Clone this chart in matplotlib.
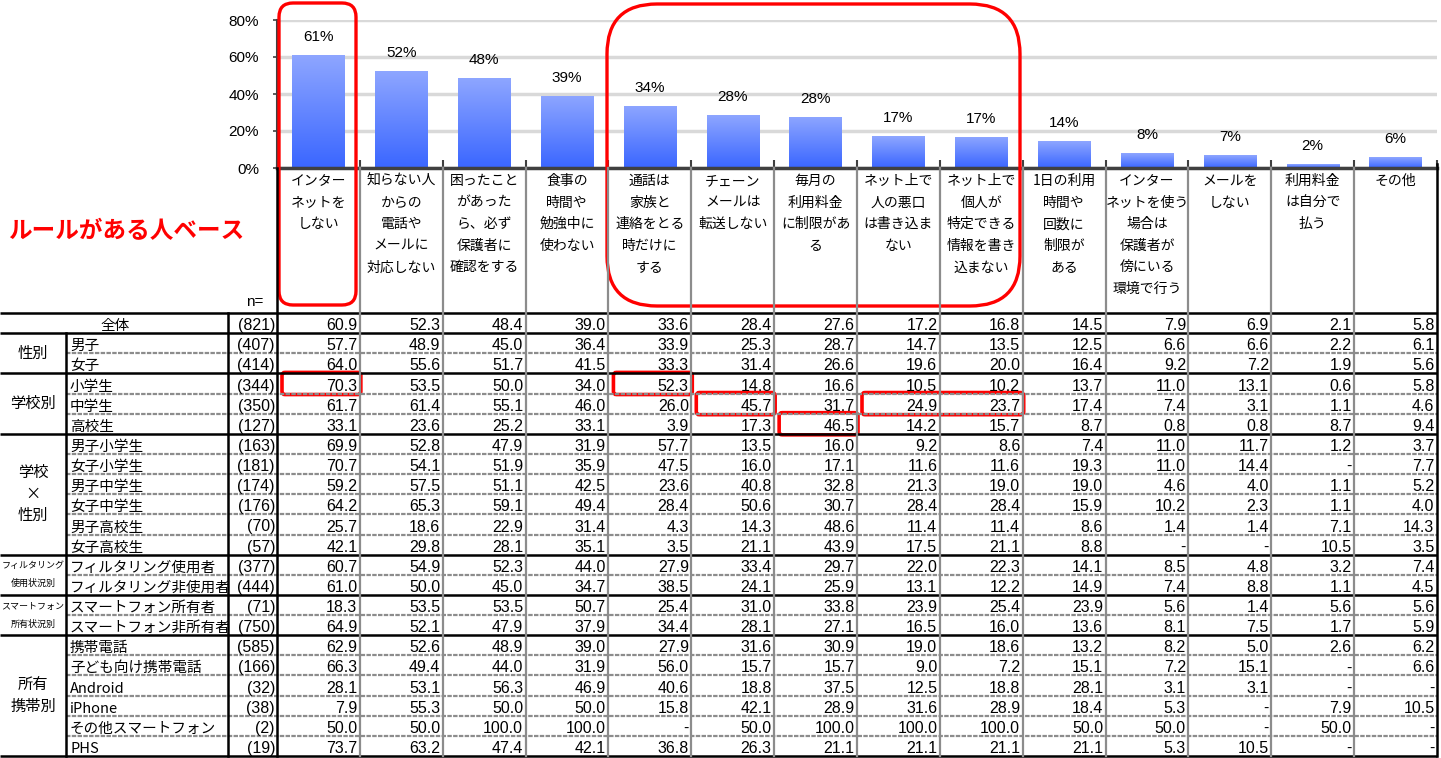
import numpy as np
import matplotlib
matplotlib.use("Agg")
import matplotlib.pyplot as plt
from matplotlib.patches import FancyBboxPatch
from matplotlib.colors import LinearSegmentedColormap

# ---- data ----
categories = [
    "インター\nネットを\nしない",
    "知らない人\nからの\n電話や\nメールに\n対応しない",
    "困ったこと\nがあった\nら、必ず\n保護者に\n確認をする",
    "食事の\n時間や\n勉強中に\n使わない",
    "通話は\n家族と\n連絡をとる\n時だけに\nする",
    "チェーン\nメールは\n転送しない",
    "毎月の\n利用料金\nに制限があ\nる",
    "ネット上で\n人の悪口\nは書き込ま\nない",
    "ネット上で\n個人が\n特定できる\n情報を書き\n込まない",
    "1日の利用\n時間や\n回数に\n制限が\nある",
    "インター\nネットを使う\n場合は\n保護者が\n傍にいる\n環境で行う",
    "メールを\nしない",
    "利用料金\nは自分で\n払う",
    "その他",
]

row_labels = ["全体", "男子", "女子", "小学生", "中学生", "高校生",
              "男子小学生", "女子小学生", "男子中学生", "女子中学生", "男子高校生", "女子高校生",
              "フィルタリング使用者", "フィルタリング非使用者",
              "スマートフォン所有者", "スマートフォン非所有者",
              "携帯電話", "子ども向け携帯電話", "Android", "iPhone", "その他スマートフォン", "PHS"]
row_n = [821, 407, 414, 344, 350, 127, 163, 181, 174, 176, 70, 57,
         377, 444, 71, 750, 585, 166, 32, 38, 2, 19]

group_names = ["全体", "性別", "学校別", "学校\n×\n性別",
               "フィルタリング\n使用状況別", "スマートフォン\n所有状況別", "所有\n携帯別"]
group_sizes = [1, 2, 3, 6, 2, 2, 6]

N = None
table = [
    [60.9, 52.3, 48.4, 39.0, 33.6, 28.4, 27.6, 17.2, 16.8, 14.5, 7.9, 6.9, 2.1, 5.8],
    [57.7, 48.9, 45.0, 36.4, 33.9, 25.3, 28.7, 14.7, 13.5, 12.5, 6.6, 6.6, 2.2, 6.1],
    [64.0, 55.6, 51.7, 41.5, 33.3, 31.4, 26.6, 19.6, 20.0, 16.4, 9.2, 7.2, 1.9, 5.6],
    [70.3, 53.5, 50.0, 34.0, 52.3, 14.8, 16.6, 10.5, 10.2, 13.7, 11.0, 13.1, 0.6, 5.8],
    [61.7, 61.4, 55.1, 46.0, 26.0, 45.7, 31.7, 24.9, 23.7, 17.4, 7.4, 3.1, 1.1, 4.6],
    [33.1, 23.6, 25.2, 33.1, 3.9, 17.3, 46.5, 14.2, 15.7, 8.7, 0.8, 0.8, 8.7, 9.4],
    [69.9, 52.8, 47.9, 31.9, 57.7, 13.5, 16.0, 9.2, 8.6, 7.4, 11.0, 11.7, 1.2, 3.7],
    [70.7, 54.1, 51.9, 35.9, 47.5, 16.0, 17.1, 11.6, 11.6, 19.3, 11.0, 14.4, N, 7.7],
    [59.2, 57.5, 51.1, 42.5, 23.6, 40.8, 32.8, 21.3, 19.0, 19.0, 4.6, 4.0, 1.1, 5.2],
    [64.2, 65.3, 59.1, 49.4, 28.4, 50.6, 30.7, 28.4, 28.4, 15.9, 10.2, 2.3, 1.1, 4.0],
    [25.7, 18.6, 22.9, 31.4, 4.3, 14.3, 48.6, 11.4, 11.4, 8.6, 1.4, 1.4, 7.1, 14.3],
    [42.1, 29.8, 28.1, 35.1, 3.5, 21.1, 43.9, 17.5, 21.1, 8.8, N, N, 10.5, 3.5],
    [60.7, 54.9, 52.3, 44.0, 27.9, 33.4, 29.7, 22.0, 22.3, 14.1, 8.5, 4.8, 3.2, 7.4],
    [61.0, 50.0, 45.0, 34.7, 38.5, 24.1, 25.9, 13.1, 12.2, 14.9, 7.4, 8.8, 1.1, 4.5],
    [18.3, 53.5, 53.5, 50.7, 25.4, 31.0, 33.8, 23.9, 25.4, 23.9, 5.6, 1.4, 5.6, 5.6],
    [64.9, 52.1, 47.9, 37.9, 34.4, 28.1, 27.1, 16.5, 16.0, 13.6, 8.1, 7.5, 1.7, 5.9],
    [62.9, 52.6, 48.9, 39.0, 27.9, 31.6, 30.9, 19.0, 18.6, 13.2, 8.2, 5.0, 2.6, 6.2],
    [66.3, 49.4, 44.0, 31.9, 56.0, 15.7, 15.7, 9.0, 7.2, 15.1, 7.2, 15.1, N, 6.6],
    [28.1, 53.1, 56.3, 46.9, 40.6, 18.8, 37.5, 12.5, 18.8, 28.1, 3.1, 3.1, N, N],
    [7.9, 55.3, 50.0, 50.0, 15.8, 42.1, 28.9, 31.6, 28.9, 18.4, 5.3, N, 7.9, 10.5],
    [50.0, 50.0, 100.0, 100.0, N, 50.0, 100.0, 100.0, 100.0, 50.0, 50.0, N, 50.0, N],
    [73.7, 63.2, 47.4, 42.1, 36.8, 26.3, 21.1, 21.1, 21.1, 21.1, 5.3, 10.5, N, N],
]
overall = table[0]

# highlighted cells: (row, first col, last col)
highlights = [(3, 0, 0), (3, 4, 4), (4, 5, 5), (4, 7, 8), (5, 6, 6)]

# ---- layout (pixels) ----
W, H = 1441, 758
JP = "Noto Sans CJK JP"
NUM = "Liberation Sans"
x_left, x_right = 277, 1437
col_w = (x_right - x_left) / len(categories)
y_top, y_base = 20, 168
t_top, t_bot = 313, 756
row_h = (t_bot - t_top) / len(row_labels)
c_grp, c_n = 66, 228

fig = plt.figure(figsize=(W / 100, H / 100), dpi=100)

# ---- bar chart ----
ax = fig.add_axes([x_left / W, 1 - y_base / H, (x_right - x_left) / W, (y_base - y_top) / H])
xs = np.arange(len(categories))
bars = ax.bar(xs, overall, width=0.63, color="none", zorder=2)
cmap = LinearSegmentedColormap.from_list("blu", ["#3a66ff", "#8ea6ff"])
grad = np.linspace(0, 1, 256).reshape(-1, 1)
for b in bars:
    x0, y0 = b.get_x(), b.get_y()
    im = ax.imshow(grad, extent=[x0, x0 + b.get_width(), y0, y0 + b.get_height()],
                   origin="lower", cmap=cmap, aspect="auto", zorder=2)
    im.set_clip_path(b)
for x, v in zip(xs, overall):
    ax.annotate(f"{round(v)}%", (x, v), xytext=(0, 13), textcoords="offset points",
                ha="center", va="center", fontsize=11, family=NUM, clip_on=False)
ax.set_xlim(-0.5, len(categories) - 0.5)
ax.set_ylim(0, 80)
ax.set_yticks([0, 20, 40, 60, 80])
ax.set_yticklabels([f"{t}%" for t in [0, 20, 40, 60, 80]], fontsize=11, family=NUM)
ax.set_xticks(np.arange(len(categories) + 1) - 0.5)
ax.set_xticklabels([])
ax.tick_params(axis="x", direction="in", length=6, width=1.5, color="#404040")
ax.tick_params(axis="y", direction="out", length=3, width=1.2, color="#404040", pad=10)
ax.grid(axis="y", color="#d9d9d9", lw=2.5, zorder=0)
ax.set_axisbelow(True)
for s in ["top", "right"]:
    ax.spines[s].set_visible(False)
ax.spines["left"].set_color("#404040")
ax.spines["left"].set_linewidth(1.5)
ax.spines["bottom"].set_color("#404040")
ax.spines["bottom"].set_linewidth(2.5)
ax.patch.set_alpha(0)

# ---- overlay for table ----
ov = fig.add_axes([0, 0, 1, 1], zorder=3)
ov.set_xlim(0, W)
ov.set_ylim(H, 0)
ov.axis("off")
ov.patch.set_alpha(0)

# header texts
for i, cat in enumerate(categories):
    cx = x_left + (i + 0.5) * col_w
    for k, line in enumerate(cat.split("\n")):
        ov.text(cx, 181 + 21.6 * k, line, ha="center", va="center", fontsize=10, family=JP)

# lines
bounds = np.cumsum([0] + group_sizes)
for r in range(len(row_labels) + 1):
    y = t_top + r * row_h
    if r in bounds:
        ov.plot([0, x_right], [y, y], color="black", lw=1.8, solid_capstyle="butt")
    else:
        ov.plot([c_grp, x_right], [y, y], color="#8c8c8c", lw=1.6, ls=(0, (2, 0.6)))
for i in range(1, len(categories)):
    x = x_left + i * col_w
    ov.plot([x, x], [y_base, t_bot], color="#8c8c8c", lw=1.6)
ov.plot([x_left, x_left], [y_base, t_bot], color="black", lw=1.8)
ov.plot([x_right, x_right], [y_base - 4, t_bot], color="black", lw=1.8)
ov.plot([c_n, c_n], [t_top, t_bot], color="black", lw=1.8)
ov.plot([c_grp, c_grp], [t_top + row_h, t_bot], color="black", lw=1.8)

ov.text(263, 306, "n=", ha="right", va="baseline", fontsize=11, family=NUM)

# rows
for r, (lab, n, vals) in enumerate(zip(row_labels, row_n, table)):
    yb = t_top + (r + 1) * row_h - 3
    if r == 0:
        ov.text(115, yb, lab, ha="center", va="baseline", fontsize=10.5, family=JP)
    else:
        ov.text(c_grp + 4, yb, lab, ha="left", va="baseline", fontsize=10.5, family=JP)
    ov.text(x_left - 2, yb, f"({n})", ha="right", va="baseline", fontsize=11.5, family=NUM)
    for c, v in enumerate(vals):
        ov.text(x_left + (c + 1) * col_w - 2.5, yb, "-" if v is None else f"{v:.1f}",
                ha="right", va="baseline", fontsize=11.5, family=NUM)

# group labels
for g, (name, start, size) in enumerate(zip(group_names, bounds[:-1], group_sizes)):
    if g == 0:
        continue
    lines = name.split("\n")
    small = len(lines[0]) > 4
    fs, sp = (6.5, 18) if small else (11, 21.5)
    cy = t_top + (start + size / 2) * row_h
    for k, line in enumerate(lines):
        ov.text(33, cy + sp * (k - (len(lines) - 1) / 2), line, ha="center", va="center",
                fontsize=fs, family=JP)

# red annotations
ov.add_patch(FancyBboxPatch((279, 3), 77, 302, boxstyle="round,pad=0,rounding_size=14",
                            fc="none", ec="#ff0000", lw=2.4))
ov.add_patch(FancyBboxPatch((607, 4), 413, 302, boxstyle="round,pad=0,rounding_size=50",
                            fc="none", ec="#ff0000", lw=2.4))
for r, c0, c1 in highlights:
    x0 = x_left + c0 * col_w + 5
    x1 = x_left + (c1 + 1) * col_w + 1
    y0 = t_top + r * row_h - 1
    ov.add_patch(FancyBboxPatch((x0, y0), x1 - x0, row_h + 2,
                                boxstyle="round,pad=0,rounding_size=3",
                                fc="none", ec="#ff0000", lw=2.6))

ov.text(8, 231, "ルールがある人ベース", ha="left", va="center", fontsize=17,
        fontweight="bold", color="#ff0000", family=JP)

fig.savefig("out.png", dpi=100)
